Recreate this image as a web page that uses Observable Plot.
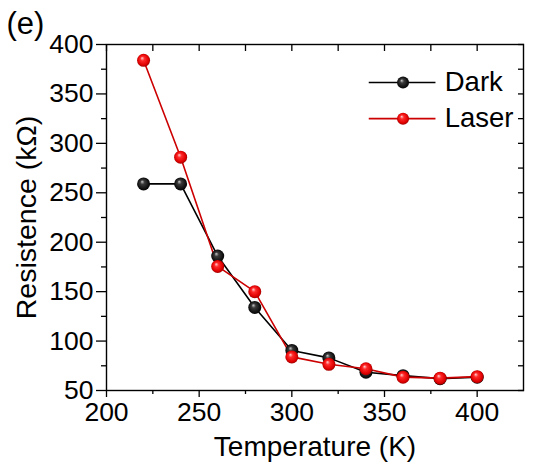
<!DOCTYPE html>
<html>
<head>
<meta charset="utf-8">
<script src="https://cdn.jsdelivr.net/npm/d3@7"></script>
<script src="https://cdn.jsdelivr.net/npm/@observablehq/plot@0.6"></script>
<style>
  html, body { margin: 0; padding: 0; background: #fff; }
  #chart { width: 536px; height: 465px; }
</style>
</head>
<body>
<div id="chart"></div>
<script>
// ---- data ----
const temperatures = [220, 240, 260, 280, 300, 320, 340, 360, 380, 400];
const darkValues   = [259, 259, 186, 134, 90.5, 83, 68.5, 65, 62, 63.5];
const laserValues  = [384, 286, 175.5, 150, 84, 76.5, 72, 63.5, 62.5, 64];
const seriesNames  = ["Dark", "Laser"];
const xMajorTicks  = [200, 250, 300, 350, 400];
const xMinorTicks  = [225, 275, 325, 375];
const yMajorTicks  = [50, 100, 150, 200, 250, 300, 350, 400];
const yMinorTicks  = [75, 125, 175, 225, 275, 325, 375];
const legendX      = [341.5, 360, 377.5];   // line start, marker, line end (data units)
const legendY      = [361.5, 325];          // Dark, Laser rows (data units)
const legendTextX  = 382.5;

const colors = { Dark: "#000000", Laser: "#cc0000" };
const grads  = { Dark: "url(#ballDark)", Laser: "url(#ballRed)" };

const rows = [];
temperatures.forEach((t, i) => {
  rows.push({ series: "Dark",  T: t, R: darkValues[i] });
  rows.push({ series: "Laser", T: t, R: laserValues[i] });
});
const legendRows = seriesNames.map((s, i) => ({ series: s, y: legendY[i] }));

const font = 'Arial, "Liberation Sans", Helvetica, sans-serif';

const chart = Plot.plot({
  width: 536,
  height: 465,
  marginLeft: 106,
  marginRight: 13,
  marginTop: 44,
  marginBottom: 75,
  style: { fontFamily: font, fontSize: "25px", color: "#000", background: "#fff" },
  x: { domain: [200, 425] },
  y: { domain: [50, 400] },
  marks: [
    Plot.frame({ stroke: "#000", strokeWidth: 1.4 }),
    // bottom axis ticks
    Plot.axisX({ ticks: xMajorTicks, tickSize: 7, text: null, label: null, strokeWidth: 1.3 }),
    Plot.axisX({ ticks: xMinorTicks, tickSize: 4, text: null, label: null, strokeWidth: 1.3 }),
    // bottom tick labels
    Plot.text(xMajorTicks, { x: d => d, frameAnchor: "bottom", textAnchor: "middle", lineAnchor: "top", dy: 12, text: d => String(d), fontSize: 26.5, fill: "#000" }),
    // top axis (inward)
    Plot.axisX({ anchor: "top", ticks: [...xMajorTicks, ...xMinorTicks], tickSize: 6, insetTop: 6, text: null, label: null, strokeWidth: 1.3 }),
    // left axis ticks
    Plot.axisY({ ticks: yMajorTicks, tickSize: 10, text: null, label: null, strokeWidth: 1.3 }),
    Plot.axisY({ ticks: yMinorTicks, tickSize: 5, text: null, label: null, strokeWidth: 1.3 }),
    // left tick labels
    Plot.text(yMajorTicks, { y: d => d, frameAnchor: "left", textAnchor: "end", lineAnchor: "middle", dx: -13, text: d => String(d), fontSize: 26.5, fill: "#000" }),
    // right axis (inward)
    Plot.axisY({ anchor: "right", ticks: [...yMajorTicks, ...yMinorTicks], tickSize: 6, insetRight: 6, text: null, label: null, strokeWidth: 1.3 }),
    // data lines
    Plot.line(rows, { x: "T", y: "R", z: "series", stroke: d => colors[d.series], strokeWidth: 1.6 }),
    Plot.dot(rows.filter(d => d.series === "Dark"), { x: "T", y: "R", r: 6.5, fill: grads.Dark, stroke: "none" }),
    Plot.dot(rows.filter(d => d.series === "Laser"), { x: "T", y: "R", r: 6.5, fill: grads.Laser, stroke: "none" }),
    // legend
    Plot.link(legendRows, { x1: legendX[0], x2: legendX[2], y1: "y", y2: "y", stroke: d => colors[d.series], strokeWidth: 1.6 }),
    Plot.dot(legendRows.filter(d => d.series === "Dark"), { x: legendX[1], y: "y", r: 6, fill: grads.Dark }),
    Plot.dot(legendRows.filter(d => d.series === "Laser"), { x: legendX[1], y: "y", r: 6, fill: grads.Laser }),
    Plot.text(legendRows, { x: legendTextX, y: "y", text: "series", textAnchor: "start", lineAnchor: "middle", fontSize: 27.5, fill: "#000" }),
    // axis titles
    Plot.text(["Temperature (K)"], { frameAnchor: "bottom", textAnchor: "middle", lineAnchor: "middle", dy: 57, fontSize: 28, fill: "#000" }),
    Plot.text(["Resistence (kΩ)"], { frameAnchor: "left", textAnchor: "middle", lineAnchor: "middle", dx: -80, rotate: -90, fontSize: 28.5, fill: "#000" }),
    Plot.text(["(e)"], { frameAnchor: "top-left", textAnchor: "start", lineAnchor: "middle", dx: -100, dy: -20.5, fontSize: 31, fill: "#000" })
  ]
});

// gradient definitions for the shaded ball markers
const svgNS = "http://www.w3.org/2000/svg";
const defs = document.createElementNS(svgNS, "defs");
function addGrad(id, stops) {
  const g = document.createElementNS(svgNS, "radialGradient");
  g.setAttribute("id", id);
  g.setAttribute("cx", "0.5"); g.setAttribute("cy", "0.5"); g.setAttribute("r", "0.55");
  g.setAttribute("fx", "0.38"); g.setAttribute("fy", "0.32");
  stops.forEach(([o, c]) => {
    const s = document.createElementNS(svgNS, "stop");
    s.setAttribute("offset", o); s.setAttribute("stop-color", c);
    g.appendChild(s);
  });
  defs.appendChild(g);
}
addGrad("ballRed", [["0", "#ffd0d0"], ["0.3", "#ff2a2a"], ["0.75", "#e00000"], ["1", "#8a0000"]]);
addGrad("ballDark", [["0", "#c8c8c8"], ["0.3", "#3a3a3a"], ["0.75", "#111"], ["1", "#000"]]);
chart.insertBefore(defs, chart.firstChild);

document.getElementById("chart").appendChild(chart);
</script>
</body>
</html>
